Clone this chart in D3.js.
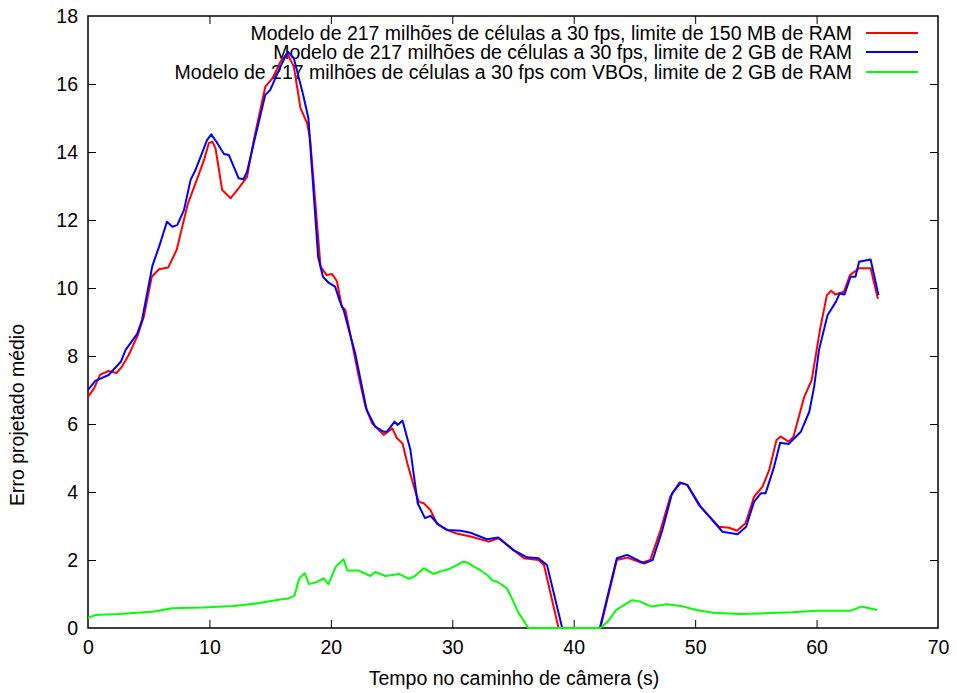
<!DOCTYPE html>
<html>
<head>
<meta charset="utf-8">
<script src="https://cdn.jsdelivr.net/npm/d3@7"></script>
<style>
  html, body { margin: 0; padding: 0; background: #fff; }
  svg { display: block; }
  text { font-family: "Liberation Sans", Arial, Helvetica, sans-serif; fill: #000; }
</style>
</head>
<body>
<svg id="chart" width="957" height="693"></svg>
<script>
// ---- data ----
const xTicks = [0, 10, 20, 30, 40, 50, 60, 70];
const yTicks = [0, 2, 4, 6, 8, 10, 12, 14, 16, 18];
const xLabel = "Tempo no caminho de câmera (s)";
const yLabel = "Erro projetado médio";
const seriesNames = [
  "Modelo de 217 milhões de células a 30 fps, limite de 150 MB de RAM",
  "Modelo de 217 milhões de células a 30 fps, limite de 2 GB de RAM",
  "Modelo de 217 milhões de células a 30 fps com VBOs, limite de 2 GB de RAM"
];
const seriesColors = ["#ff0000", "#0000ff", "#00ff00"];

const redT = [0,0.5,1.0,1.7,2.35,2.8,3.35,4.05,4.6,5.25,5.85,6.6,7.3,8.2,8.85,9.55,9.95,10.25,10.5,11.05,11.75,12.4,13.1,13.65,14.6,15.2,15.85,16.4,16.95,17.5,18.05,18.3,19.15,19.65,20.1,20.5,20.9,21.2,21.75,22.3,22.85,23.4,24.35,25.05,25.45,25.9,26.3,27.0,27.25,27.65,28.2,28.75,29.6,30.35,31.5,33.0,33.8,34.5,35.9,37.1,37.55,38.75,42.2,43.55,44.4,45.6,46.3,47.15,47.95,48.7,49.35,50.3,51.95,52.8,53.45,54.15,54.85,55.55,56.1,56.7,57.05,57.7,58.1,58.95,59.6,60.3,60.85,61.2,61.55,62.25,62.75,63.5,64.45,65.05];
const redV = [6.8,7.05,7.45,7.56,7.5,7.69,8.03,8.57,9.16,10.33,10.55,10.6,11.12,12.45,13.08,13.76,14.26,14.3,14.11,12.88,12.64,12.93,13.27,14.35,15.92,16.17,16.66,16.9,16.51,15.29,14.84,14.35,10.63,10.38,10.41,10.2,9.45,9.35,8.37,7.39,6.51,6.02,5.68,5.87,5.58,5.43,4.84,3.96,3.71,3.67,3.47,3.06,2.88,2.78,2.69,2.54,2.64,2.44,2.05,2.0,1.85,0,0,2.0,2.07,1.92,2.0,2.88,3.86,4.28,4.21,3.62,2.98,2.95,2.86,3.08,3.86,4.16,4.65,5.53,5.63,5.48,5.63,6.76,7.3,8.81,9.79,9.92,9.81,9.89,10.38,10.58,10.58,9.68];

const blueT = [0,0.6,1.7,2.7,3.1,4.05,4.45,5.3,5.85,6.5,6.95,7.35,7.9,8.45,8.85,9.8,10.15,10.65,11.2,11.6,12.4,12.8,13.1,13.65,14.6,15.0,15.85,16.45,16.95,17.75,18.15,18.95,19.35,19.8,20.35,20.75,21.05,22.0,22.95,23.65,24.35,24.6,25.25,25.5,25.9,26.55,27.15,27.75,28.2,28.9,29.6,30.7,31.5,32.85,33.8,35.05,36.15,37.1,37.8,39.05,42.15,43.55,44.4,45.8,46.5,47.3,48.1,48.8,49.35,50.45,52.25,53.5,54.2,54.85,55.4,55.8,56.5,57.0,57.7,58.7,59.4,59.8,60.2,60.9,61.6,61.9,62.3,62.8,63.2,63.5,64.45,65.1];
const blueV = [7.0,7.27,7.44,7.83,8.18,8.65,9.06,10.65,11.21,11.95,11.8,11.85,12.29,13.18,13.47,14.35,14.52,14.26,13.94,13.91,13.23,13.2,13.42,14.26,15.68,15.82,16.51,16.95,16.76,15.63,14.99,10.92,10.33,10.16,10.04,9.6,9.35,8.08,6.41,5.92,5.77,5.77,6.07,5.97,6.1,5.24,3.67,3.23,3.3,3.03,2.88,2.86,2.8,2.61,2.66,2.29,2.08,2.05,1.85,0,0,2.05,2.15,1.9,2.0,2.88,3.96,4.27,4.21,3.57,2.83,2.76,2.98,3.71,3.96,3.96,4.74,5.45,5.41,5.77,6.36,7.1,8.18,9.2,9.6,9.84,9.81,10.33,10.33,10.77,10.84,9.79];

const greenT = [0,0.6,2.55,5.3,6.9,9.4,12,14,15.8,16.5,17.0,17.4,17.85,18.2,18.8,19.4,19.8,20.4,21.05,21.35,22.3,23.25,23.65,24.5,25.6,26.4,26.85,27.65,28.45,29.15,29.7,30.25,30.9,31.3,31.7,32.3,32.9,33.3,33.7,34.5,34.9,35.4,36.0,36.25,42.2,42.8,43.5,44.8,45.5,46.4,47.7,48.8,50.1,51.5,53.7,55.4,58,60,62.8,63.7,65];
const greenV = [0.3,0.38,0.41,0.48,0.58,0.6,0.65,0.73,0.84,0.87,0.95,1.46,1.61,1.29,1.35,1.46,1.29,1.8,2.02,1.69,1.69,1.53,1.65,1.53,1.59,1.45,1.51,1.76,1.59,1.68,1.73,1.82,1.95,1.92,1.82,1.7,1.55,1.4,1.36,1.17,0.88,0.48,0.15,0,0,0.19,0.53,0.82,0.77,0.63,0.7,0.65,0.53,0.45,0.41,0.43,0.46,0.51,0.51,0.63,0.53];

// ---- layout ----
const svg = d3.select("#chart");
const L = 88, R = 938, T = 16, B = 628;
const x = d3.scaleLinear().domain([0, 70]).range([L, R]);
const y = d3.scaleLinear().domain([0, 18]).range([B, T]);
const FS = 19.5;
const tickLen = 8;

// axes (ticks inward, mirrored)
const gx = svg.append("g").attr("transform", `translate(0,${B})`)
  .call(d3.axisBottom(x).tickValues(xTicks).tickFormat(d3.format("d")).tickSize(-tickLen).tickPadding(12));
const gxt = svg.append("g").attr("transform", `translate(0,${T})`)
  .call(d3.axisTop(x).tickValues(xTicks.slice(1, -1)).tickFormat("").tickSize(-tickLen));
const gy = svg.append("g").attr("transform", `translate(${L},0)`)
  .call(d3.axisLeft(y).tickValues(yTicks).tickFormat(d3.format("d")).tickSize(-tickLen).tickPadding(10));
const gyr = svg.append("g").attr("transform", `translate(${R},0)`)
  .call(d3.axisRight(y).tickValues(yTicks.slice(1, -1)).tickFormat("").tickSize(-tickLen));

[gx, gxt, gy, gyr].forEach(g => {
  g.select(".domain").remove();
  g.selectAll(".tick line").attr("stroke", "#000").attr("stroke-width", 1);
  g.selectAll(".tick text").attr("font-size", FS).attr("font-family", "Liberation Sans, Arial, sans-serif").attr("fill", "#000");
});
gx.selectAll(".tick").filter(d => d === 0 || d === 70).select("line").remove();
gy.selectAll(".tick").filter(d => d === 0 || d === 18).select("line").remove();

// frame
svg.append("rect").attr("x", L).attr("y", T).attr("width", R - L).attr("height", B - T)
  .attr("fill", "none").attr("stroke", "#000").attr("stroke-width", 1.5);

// axis titles
svg.append("text").attr("x", 514).attr("y", 685)
  .attr("text-anchor", "middle").attr("font-size", FS).text(xLabel);
svg.append("text").attr("transform", `translate(24,415) rotate(-90)`)
  .attr("text-anchor", "middle").attr("font-size", FS).text(yLabel);

// legend text
const legY = [33, 52, 72];
seriesNames.forEach((name, i) => {
  svg.append("text").attr("x", 852).attr("y", legY[i]).attr("dy", "0.35em")
    .attr("text-anchor", "end").attr("font-size", FS).text(name);
  svg.append("line").attr("x1", 866).attr("x2", 918).attr("y1", legY[i]).attr("y2", legY[i])
    .attr("stroke", seriesColors[i]).attr("stroke-width", 2);
});

// series
const line = d3.line().x(d => x(d[0])).y(d => y(d[1]));
const series = [
  d3.zip(redT, redV),
  d3.zip(blueT, blueV),
  d3.zip(greenT, greenV)
];
series.forEach((pts, i) => {
  svg.append("path").datum(pts).attr("d", line)
    .attr("fill", "none").attr("stroke", seriesColors[i]).attr("stroke-width", 2)
    .attr("stroke-linejoin", "round");
});
</script>
</body>
</html>
